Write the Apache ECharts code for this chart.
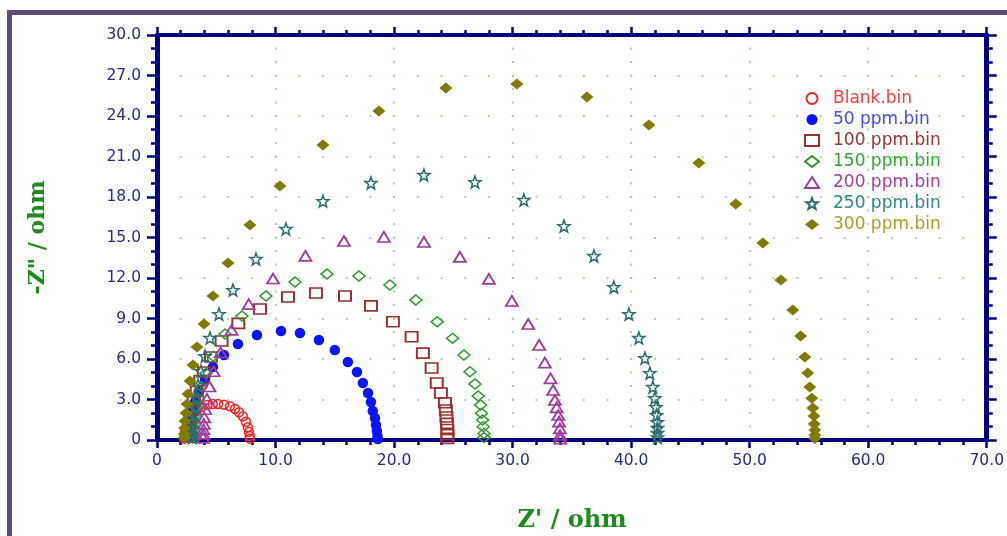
<!DOCTYPE html>
<html><head><meta charset="utf-8">
<script src="https://cdn.jsdelivr.net/npm/echarts@6/dist/echarts.min.js"></script>
<style>html,body{margin:0;padding:0;background:#fff}#c{width:1007px;height:536px}</style>
</head><body><div id="c"></div>
<script>
// ---- data (Z' , -Z'') ----
const seriesNames = ['Blank.bin','50 ppm.bin','100 ppm.bin','150 ppm.bin','200 ppm.bin','250 ppm.bin','300 ppm.bin'];
const blank = [[2.30,0.10],[2.33,0.40],[2.40,0.75],[2.52,1.10],[2.70,1.50],[2.95,1.88],[3.30,2.20],[3.75,2.45],[4.25,2.60],[4.70,2.67],[5.15,2.67],[5.65,2.62],[6.16,2.50],[6.58,2.30],[6.92,2.05],[7.25,1.75],[7.50,1.35],[7.67,0.95],[7.76,0.60],[7.82,0.30],[7.84,0.10]];
const ppm50 = [[2.64,0.22],[2.68,0.60],[2.75,1.04],[2.85,1.56],[3.00,2.15],[3.20,2.81],[3.54,3.56],[4.05,4.44],[4.72,5.41],[5.65,6.30],[6.83,7.11],[8.43,7.78],[10.46,8.07],[12.06,7.93],[13.66,7.41],[15.00,6.67],[16.10,5.78],[16.87,5.04],[17.37,4.22],[17.80,3.48],[18.05,2.81],[18.20,2.15],[18.39,1.63],[18.47,1.11],[18.55,0.67],[18.60,0.30],[18.62,0.08]];
const ppm100 = [[2.58,0.25],[2.62,0.65],[2.70,1.10],[2.80,1.60],[2.95,2.20],[3.12,2.85],[3.35,3.60],[3.65,4.40],[3.96,5.04],[4.55,6.15],[5.45,7.33],[6.86,8.64],[8.69,9.70],[11.05,10.59],[13.41,10.89],[15.86,10.67],[18.05,9.93],[19.90,8.76],[21.48,7.65],[22.43,6.44],[23.17,5.33],[23.60,4.22],[23.95,3.48],[24.29,2.76],[24.37,2.22],[24.42,1.70],[24.46,1.23],[24.50,0.78],[24.50,0.40],[24.50,0.12]];
const ppm150 = [[3.00,0.15],[3.02,0.45],[3.05,0.85],[3.10,1.30],[3.18,1.80],[3.30,2.40],[3.48,3.10],[3.75,3.95],[4.15,4.95],[4.75,6.20],[5.75,7.85],[7.17,9.19],[9.19,10.67],[11.64,11.70],[14.34,12.30],[17.04,12.15],[19.65,11.48],[21.84,10.37],[23.64,8.76],[24.93,7.53],[25.89,6.30],[26.40,5.06],[26.82,4.15],[27.10,3.26],[27.30,2.59],[27.38,1.98],[27.47,1.48],[27.52,0.99],[27.58,0.49],[27.58,0.18]];
const ppm200 = [[3.90,0.16],[3.91,0.45],[3.92,0.79],[3.95,1.19],[3.99,1.68],[4.07,2.28],[4.21,3.04],[4.43,3.96],[4.78,5.09],[5.36,6.48],[6.29,8.16],[7.74,10.06],[9.79,11.96],[12.52,13.64],[15.77,14.74],[19.14,15.04],[22.52,14.67],[25.55,13.56],[28.00,11.93],[29.94,10.30],[31.32,8.59],[32.24,7.04],[32.72,5.73],[33.20,4.57],[33.42,3.70],[33.57,2.96],[33.71,2.42],[33.85,1.85],[33.92,1.36],[33.99,0.86],[34.00,0.37],[34.02,0.10]];
const ppm250 = [[2.97,0.18],[2.98,0.50],[3.00,0.89],[3.04,1.41],[3.12,1.93],[3.20,2.52],[3.29,3.19],[3.46,4.07],[3.71,5.11],[4.05,6.22],[4.47,7.56],[5.23,9.33],[6.41,11.11],[8.35,13.41],[10.88,15.63],[14.00,17.70],[18.05,19.04],[22.52,19.63],[26.82,19.11],[30.95,17.78],[34.33,15.85],[36.86,13.63],[38.54,11.33],[39.81,9.33],[40.65,7.56],[41.16,6.07],[41.58,4.96],[41.83,3.93],[42.00,3.11],[42.09,2.44],[42.15,1.85],[42.20,1.33],[42.22,0.89],[42.22,0.52],[42.22,0.20]];
const ppm300 = [[2.30,0.15],[2.31,0.45],[2.33,0.89],[2.36,1.40],[2.45,2.00],[2.53,2.67],[2.61,3.40],[2.78,4.37],[3.04,5.56],[3.37,6.89],[3.96,8.59],[4.72,10.67],[5.99,13.11],[7.84,15.93],[10.37,18.81],[14.00,21.85],[18.72,24.37],[24.37,26.07],[30.36,26.37],[36.27,25.41],[41.50,23.33],[45.71,20.52],[48.83,17.48],[51.11,14.59],[52.63,11.85],[53.64,9.63],[54.30,7.70],[54.65,6.15],[54.90,4.96],[55.07,3.93],[55.24,3.10],[55.33,2.37],[55.42,1.78],[55.45,1.19],[55.50,0.74],[55.50,0.37],[55.50,0.12]];
// axis ranges / tick steps
const xRange = [0, 70], xStep = 10, xMinorSplit = 5;
const yRange = [0, 30], yStep = 3, yMinorSplit = 3;
const xTitle = "Z' / ohm";
const yTitle = '-Z" / ohm';

// ---- styles ----
const navy = '#000080';
const labelColor = '#2a2a8c';
const titleColor = '#1e8c1e';
const gridDot = '#a8d49a';
const legendTextColors = ['#ff3a3a','#4a4aff','#993333','#33a633','#a440a4','#338686','#a8a028'];
const STAR = 'path://M0,-10L2.35,-3.24L9.51,-3.09L3.8,1.24L5.88,8.09L0,4.3L-5.88,8.09L-3.8,1.24L-9.51,-3.09L-2.35,-3.24Z';
const CLEAR = 'rgba(0,0,0,0)';

function sc(name, data, symbol, size, fill, stroke, bw) {
  return {
    type: 'scatter', name, data, symbol, symbolSize: size,
    itemStyle: { color: fill, borderColor: stroke, borderWidth: bw, opacity: 1 },
    emphasis: { disabled: true }, animation: false
  };
}

const fmt = v => (v === 0 ? '0' : v.toFixed(1));
const W = 1007, H = 536;
const G = { left: 157, top: 35, right: W - 987, bottom: H - 440 };
const gw = 987 - 157, gh = 440 - 35;
const xMinorPx = gw / ((xRange[1] - xRange[0]) / xStep * xMinorSplit);
const yMinorPx = gh / ((yRange[1] - yRange[0]) / yStep * yMinorSplit);

function xAx(pos, main) {
  return {
    type: 'value', min: xRange[0], max: xRange[1], interval: xStep, position: pos,
    axisLine: { show: true, onZero: false, lineStyle: { color: navy, width: 4 } },
    axisTick: { show: true, length: 8, lineStyle: { color: navy, width: 2.5 } },
    minorTick: { show: true, splitNumber: xMinorSplit, length: 5, lineStyle: { color: navy, width: 2.5 } },
    axisLabel: { show: main, formatter: fmt, color: labelColor, fontFamily: 'DejaVu Sans', fontSize: 15.5, margin: 13 },
    splitLine: { show: main, showMinLine: false, showMaxLine: false,
      lineStyle: { color: gridDot, width: 1.8, type: [1.8, yMinorPx - 1.8], dashOffset: 0.9 } },
    minorSplitLine: { show: false }
  };
}
function yAx(pos, main) {
  return {
    type: 'value', min: yRange[0], max: yRange[1], interval: yStep, position: pos,
    axisLine: { show: true, onZero: false, lineStyle: { color: navy, width: 5 } },
    axisTick: { show: true, length: 10, lineStyle: { color: navy, width: 2.5 } },
    minorTick: { show: true, splitNumber: yMinorSplit, length: 6, lineStyle: { color: navy, width: 2.5 } },
    axisLabel: { show: main, formatter: fmt, color: labelColor, fontFamily: 'DejaVu Sans', fontSize: 15.5, margin: 16 },
    splitLine: { show: main, showMinLine: false, showMaxLine: false,
      lineStyle: { color: gridDot, width: 1.8, type: [1.8, xMinorPx - 1.8], dashOffset: 0.9 } },
    minorSplitLine: { show: false }
  };
}

const chart = echarts.init(document.getElementById('c'), null, { renderer: 'canvas', width: W, height: H });
chart.setOption({
  backgroundColor: '#ffffff',
  animation: false,
  grid: G,
  xAxis: [xAx('bottom', true), xAx('top', false)],
  yAxis: [yAx('left', true), yAx('right', false)],
  legend: {
    orient: 'vertical', left: 799, top: 85,
    itemWidth: 14, itemHeight: 11, itemGap: 4, selectedMode: false, symbolKeepAspect: true,
    textStyle: { fontFamily: 'DejaVu Sans', fontSize: 17, lineHeight: 14, padding: [0, 0, 0, 9] },
    data: seriesNames.map((n, i) => ({ name: n, textStyle: { color: legendTextColors[i] } }))
  },
  graphic: [
    { type: 'rect', silent: true, z: 100, shape: { x: 9.5, y: 12.5, width: 1200, height: 800 },
      style: { fill: 'none', stroke: '#5c4a7a', lineWidth: 5 } },
    { type: 'text', silent: true, x: 572, y: 521,
      style: { text: xTitle, font: 'bold 24px "DejaVu Serif"', fill: titleColor, align: 'center', verticalAlign: 'middle' } },
    { type: 'text', silent: true, x: 38, y: 237.5, rotation: Math.PI / 2,
      style: { text: yTitle, font: 'bold 22px "DejaVu Serif"', fill: titleColor, align: 'center', verticalAlign: 'middle' } }
  ],
  series: [
    sc(seriesNames[0], blank, 'circle', 9, CLEAR, '#ff2020', 1.5),
    sc(seriesNames[1], ppm50, 'circle', 10.5, '#0a14ff', '#0a14ff', 0),
    sc(seriesNames[2], ppm100, 'rect', [12, 10], CLEAR, '#9c2f2f', 1.8),
    sc(seriesNames[3], ppm150, 'diamond', [12, 10], CLEAR, '#2f9a2f', 1.5),
    sc(seriesNames[4], ppm200, 'triangle', [12, 10], CLEAR, '#a03ca0', 1.8),
    sc(seriesNames[5], ppm250, STAR, 12, CLEAR, '#2c6e70', 1.5),
    sc(seriesNames[6], ppm300, 'diamond', [13, 11], '#7f7a00', '#7f7a00', 0)
  ]
});
</script></body></html>
